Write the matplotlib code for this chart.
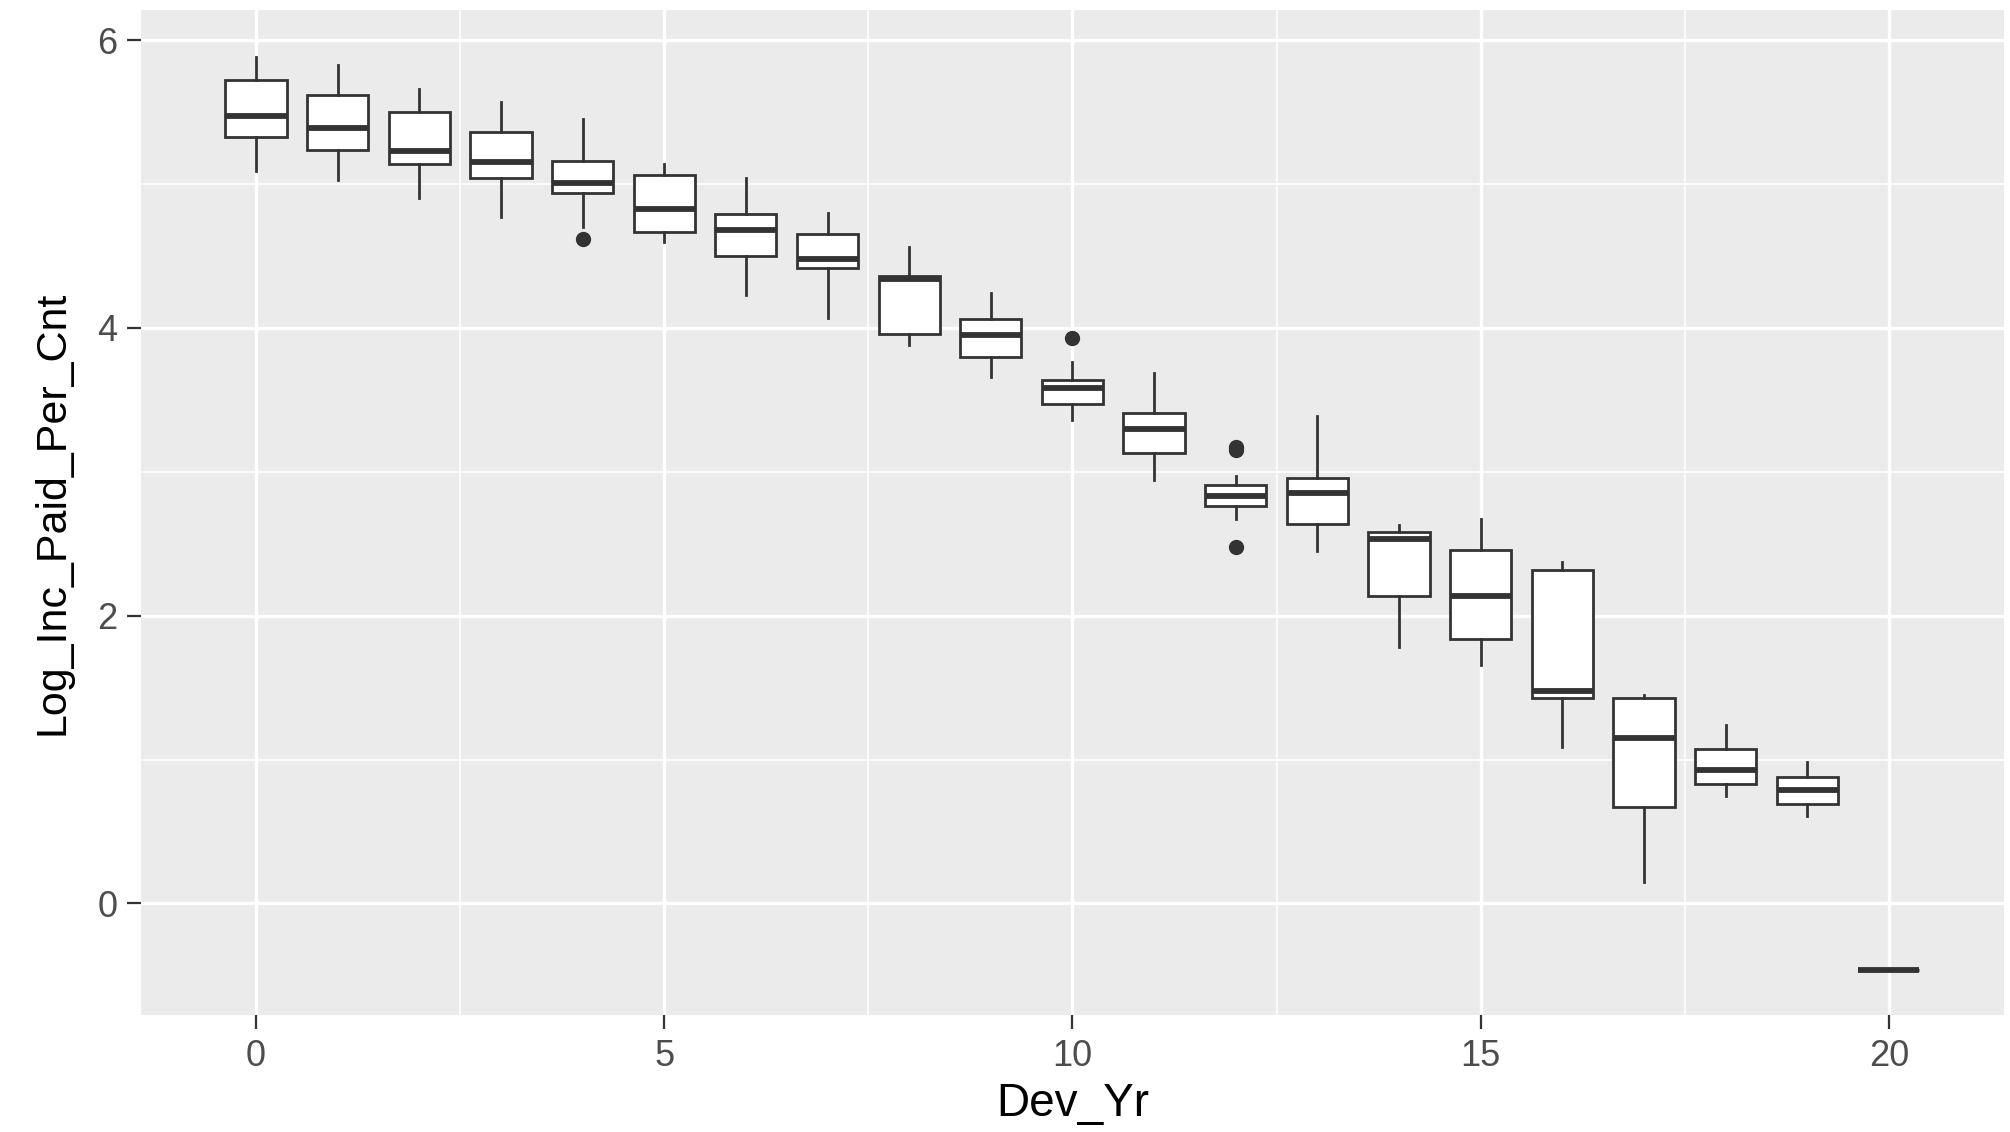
import numpy as np
import matplotlib.pyplot as plt

# Dev_Yr boxplot summary values
dev_yr = list(range(21))
whis_lo = [5.09, 5.03, 4.90, 4.77, 4.70, 4.60, 4.23, 4.07, 3.88, 3.66, 3.36,
           2.94, 2.67, 2.45, 1.78, 1.66, 1.09, 0.15, 0.75, 0.61, -0.46]
q1 = [5.33, 5.24, 5.14, 5.04, 4.94, 4.67, 4.50, 4.42, 3.96, 3.80, 3.47,
      3.13, 2.76, 2.64, 2.14, 1.84, 1.43, 0.67, 0.83, 0.69, -0.46]
med = [5.47, 5.39, 5.23, 5.15, 5.01, 4.83, 4.68, 4.48, 4.34, 3.95, 3.58,
       3.30, 2.83, 2.85, 2.53, 2.14, 1.48, 1.15, 0.93, 0.79, -0.46]
q3 = [5.72, 5.62, 5.50, 5.36, 5.16, 5.06, 4.79, 4.65, 4.36, 4.06, 3.64,
      3.41, 2.91, 2.96, 2.58, 2.46, 2.32, 1.43, 1.07, 0.88, -0.46]
whis_hi = [5.88, 5.83, 5.66, 5.57, 5.45, 5.14, 5.04, 4.80, 4.56, 4.24, 3.76,
           3.69, 2.97, 3.39, 2.63, 2.67, 2.37, 1.45, 1.24, 0.98, -0.46]
outliers = {4: [4.62], 10: [3.93], 12: [3.17, 3.15, 2.48]}

dark = '#333333'

stats = []
for i, x in enumerate(dev_yr):
    stats.append({
        'whislo': whis_lo[i], 'q1': q1[i], 'med': med[i],
        'q3': q3[i], 'whishi': whis_hi[i],
        'fliers': outliers.get(x, []),
    })

fig = plt.figure(figsize=(20.10, 11.32), dpi=100)
ax = fig.add_axes([0.0701, 0.1034, 0.9269, 0.8878])
ax.set_facecolor('#EBEBEB')

ax.bxp(stats, positions=dev_yr, widths=0.75, patch_artist=True,
       showcaps=False,
       boxprops=dict(facecolor='white', edgecolor=dark, linewidth=2),
       whiskerprops=dict(color=dark, linewidth=2),
       medianprops=dict(color=dark, linewidth=4.2, solid_capstyle='butt'),
       flierprops=dict(marker='o', markerfacecolor=dark, markeredgecolor=dark,
                       markersize=10))

ax.set_xlim(-1.41, 21.41)
ax.set_ylim(-0.775, 6.21)
ax.set_xticks([0, 5, 10, 15, 20])
ax.set_xticklabels(['0', '5', '10', '15', '20'])
ax.set_xticks([2.5, 7.5, 12.5, 17.5], minor=True)
ax.set_yticks([0, 2, 4, 6])
ax.set_yticklabels(['0', '2', '4', '6'])
ax.set_yticks([1, 3, 5], minor=True)

ax.set_axisbelow(True)
ax.grid(which='major', color='white', linewidth=2.4)
ax.grid(which='minor', color='white', linewidth=1.2)
for s in ax.spines.values():
    s.set_visible(False)

ax.tick_params(which='major', length=10, width=1.6, color=dark,
               labelsize=26, labelcolor='#4D4D4D', pad=7)
ax.tick_params(which='minor', length=0)
for lab in ax.get_xticklabels() + ax.get_yticklabels():
    lab.set_family('Liberation Sans')

ax.set_xlabel('Dev_Yr', fontsize=33, family='Liberation Sans', labelpad=6)
ax.set_ylabel('Log_Inc_Paid_Per_Cnt', fontsize=31, family='Liberation Sans',
              labelpad=18)

fig.savefig('out.png', dpi=100)
